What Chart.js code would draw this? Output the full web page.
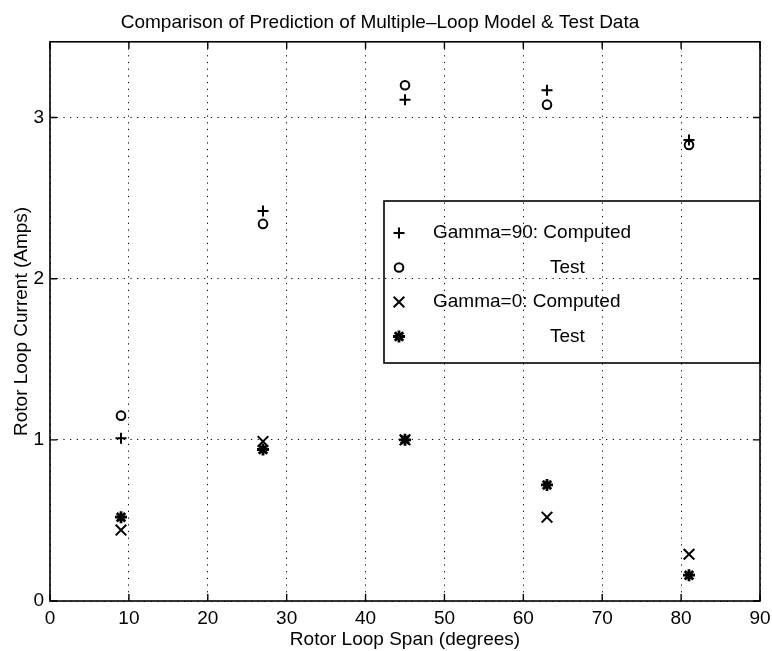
<!DOCTYPE html>
<html>
<head>
<meta charset="utf-8">
<script src="https://cdn.jsdelivr.net/npm/chart.js@4.4.1/dist/chart.umd.min.js"></script>
<style>
  html, body { margin: 0; padding: 0; background: #fff; }
  #wrap { width: 772px; height: 651px; }
</style>
</head>
<body>
<div id="wrap"><canvas id="chart" width="772" height="651"></canvas></div>
<script>

/* DATA */

const spans = [9, 27, 45, 63, 81];

const g90Computed = [1.01, 2.42, 3.11, 3.17, 2.86];
const g90Test = [1.15, 2.34, 3.20, 3.08, 2.83];
const g0Computed = [0.44, 0.99, 1.00, 0.52, 0.29];
const g0Test = [0.52, 0.94, 1.00, 0.72, 0.16];

const xTicks = [0, 10, 20, 30, 40, 50, 60, 70, 80, 90];
const yTicks = [0, 1, 2, 3];

const legendLabels = ["Gamma=90: Computed", "Test", "Gamma=0: Computed", "Test"];

const FONT = "'Liberation Sans', Arial, Helvetica, sans-serif";

function pts(ys){
    return spans.map((x,i)=>({x:x, y:ys[i]}));
}

function series(label, ys, style, radius, width){
    return {
        label: label,
        data: pts(ys),
        showLine: false,
        pointStyle: style,
        pointRadius: radius,
        pointHoverRadius: radius,
        pointBorderWidth: width,
        pointBorderColor: "#000",
        pointBackgroundColor: "rgba(0,0,0,0)",
        borderColor: "#000"
    };
}

const datasets = [
    series(legendLabels[0], g90Computed, "cross", 5.5, 2),
    series(legendLabels[1], g90Test, "circle", 4.3, 2),
    series(legendLabels[2], g0Computed, "crossRot", 7.5, 2),
    series(legendLabels[3], g0Test, "star", 6, 2.8)
];

/* frame, inward ticks and boxed legend like the matlab figure */

const framePlugin = {
    id: "frame",
    afterDatasetsDraw(chart){
        const ctx = chart.ctx;
        const a = chart.chartArea;
        const xs = chart.scales.x;
        const ys = chart.scales.y;
        const tl = 7;

        ctx.save();
        ctx.strokeStyle = "#000";
        ctx.lineWidth = 1.6;
        ctx.strokeRect(a.left, a.top, a.right - a.left, a.bottom - a.top);

        ctx.lineWidth = 1.4;
        ctx.beginPath();
        xTicks.forEach(v=>{
            const px = xs.getPixelForValue(v);
            ctx.moveTo(px, a.bottom); ctx.lineTo(px, a.bottom - tl);
            ctx.moveTo(px, a.top); ctx.lineTo(px, a.top + tl);
        });
        yTicks.forEach(v=>{
            const py = ys.getPixelForValue(v);
            ctx.moveTo(a.left, py); ctx.lineTo(a.left + tl, py);
            ctx.moveTo(a.right, py); ctx.lineTo(a.right - tl, py);
        });
        ctx.stroke();

        // legend box
        const bx = a.left + 334;
        const by = 201;
        const bw = a.right - bx;
        const bh = 162;
        ctx.lineWidth = 1.6;
        ctx.strokeRect(bx, by, bw, bh);

        ctx.font = "19px " + FONT;
        ctx.textBaseline = "middle";
        ctx.textAlign = "left";

        datasets.forEach((ds,i)=>{
            const y = by + 32 + i * 34.5;
            ctx.strokeStyle = "#000";
            ctx.fillStyle = "rgba(0,0,0,0)";
            ctx.lineWidth = ds.pointBorderWidth;
            Chart.helpers.drawPoint(ctx, {
                pointStyle: ds.pointStyle,
                radius: ds.pointRadius,
                borderWidth: ds.pointBorderWidth,
                rotation: 0
            }, bx + 15, y);
            ctx.fillStyle = "#000";
            const tx = (i % 2 === 0) ? bx + 49 : bx + 166;
            ctx.fillText(ds.label, tx, y);
        });

        ctx.restore();
    }
};

new Chart(document.getElementById("chart"),{

    type: "scatter",

    data: { datasets: datasets },

    options: {
        responsive: false,
        animation: false,
        layout: { padding: { left: 0, right: 12, top: 0, bottom: 0 } },
        plugins: {
            legend: { display: false },
            tooltip: { enabled: false },
            title: {
                display: true,
                text: "Comparison of Prediction of Multiple\u2013Loop Model & Test Data",
                color: "#000",
                font: { family: FONT, size: 19, weight: "normal" },
                padding: { top: 11, bottom: 8 }
            }
        },
        scales: {
            x: {
                type: "linear",
                min: 0,
                max: 90,
                afterBuildTicks: (s)=>{ s.ticks = xTicks.map(v=>({value:v})); },
                afterFit: (s)=>{ s.height = 50; s.paddingLeft = 0; s.paddingRight = 0; },
                grid: { color: "#000", lineWidth: 1, drawTicks: false },
                border: { display: false, dash: [1.2, 5.5] },
                ticks: { color: "#000", padding: 6, font: { family: FONT, size: 19 } },
                title: {
                    display: true,
                    text: "Rotor Loop Span (degrees)",
                    color: "#000",
                    font: { family: FONT, size: 19 },
                    padding: { top: 0, bottom: 0 }
                }
            },
            y: {
                type: "linear",
                min: 0,
                max: 3.47,
                afterBuildTicks: (s)=>{ s.ticks = yTicks.map(v=>({value:v})); },
                afterFit: (s)=>{ s.width = 50; },
                grid: { color: "#000", lineWidth: 1, drawTicks: false },
                border: { display: false, dash: [1.2, 5.5] },
                ticks: { color: "#000", padding: 6, font: { family: FONT, size: 19 } },
                title: {
                    display: true,
                    text: "Rotor Loop Current (Amps)",
                    color: "#000",
                    font: { family: FONT, size: 19 },
                    padding: { top: 10, bottom: 0 }
                }
            }
        }
    },

    plugins: [framePlugin]

});

</script>
</body>
</html>
